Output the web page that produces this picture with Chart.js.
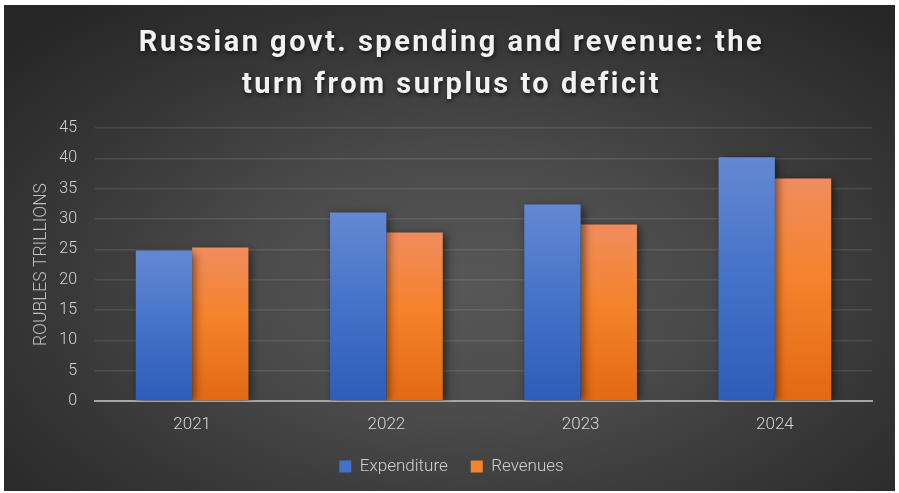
<!DOCTYPE html>
<html>
<head>
<meta charset="utf-8">
<script src="https://cdn.jsdelivr.net/npm/chart.js@4.4.1/dist/chart.umd.min.js"></script>
<style>
  html, body { margin: 0; padding: 0; background: #ffffff; }
  #frame {
    position: absolute; left: 4px; top: 5px; width: 891px; height: 486px;
    background: radial-gradient(ellipse 70% 75% at 52% 58%, #575757 0%, #4b4b4b 35%, #363636 70%, #262626 100%);
  }
  canvas { display: block; }
</style>
</head>
<body>
<div id="frame"><canvas id="c" width="891" height="486"></canvas></div>
<script>
// Russian federal budget, trillions of roubles
const years = ['2021', '2022', '2023', '2024'];
const expenditure = [24.8, 31.1, 32.4, 40.2];
const revenues = [25.3, 27.8, 29.1, 36.7];
const yTicks = [0, 5, 10, 15, 20, 25, 30, 35, 40, 45];

const titleLines = ['Russian govt. spending and revenue: the', 'turn from surplus to deficit'];

// Vertical gradient spanning each bar from its top to the baseline
function barGradient(stops) {
  return function (context) {
    const chart = context.chart;
    const ys = chart.scales && chart.scales.y;
    if (!ys || context.type !== 'data' || context.parsed == null) return stops[1][1];
    const top = ys.getPixelForValue(context.parsed.y);
    const base = ys.getPixelForValue(0);
    if (!isFinite(top) || !isFinite(base) || top === base) return stops[1][1];
    const g = chart.ctx.createLinearGradient(0, top, 0, base);
    stops.forEach(s => g.addColorStop(s[0], s[1]));
    return g;
  };
}

const blueStops = [[0, '#6488d2'], [0.5, '#4472c8'], [1, '#2d5db8']];
const orangeStops = [[0, '#f08d5e'], [0.45, '#f5822c'], [1, '#e36914']];

// Soft drop shadow under the bars and spaced, shadowed title text
const effects = {
  id: 'effects',
  beforeDraw(chart) {
    const tb = chart.titleBlock;
    if (tb && !tb._spaced) {
      const orig = tb.draw;
      tb.draw = function () {
        const ctx = chart.ctx;
        ctx.save();
        ctx.letterSpacing = '2.5px';
        ctx.shadowColor = 'rgba(0,0,0,0.65)';
        ctx.shadowBlur = 4;
        ctx.shadowOffsetX = 1;
        ctx.shadowOffsetY = 2;
        orig.apply(this, arguments);
        ctx.restore();
      };
      tb._spaced = true;
    }
  },
  beforeDatasetsDraw(chart) {
    const ctx = chart.ctx;
    ctx.save();
    ctx.shadowColor = 'rgba(0,0,0,0.55)';
    ctx.shadowBlur = 9;
    ctx.shadowOffsetX = 3;
    ctx.shadowOffsetY = 2;
  },
  afterDatasetsDraw(chart) {
    chart.ctx.restore();
  }
};

new Chart(document.getElementById('c'), {
  type: 'bar',
  data: {
    labels: years,
    datasets: [
      { label: 'Expenditure', data: expenditure, backgroundColor: barGradient(blueStops), borderWidth: 0 },
      { label: 'Revenues', data: revenues, backgroundColor: barGradient(orangeStops), borderWidth: 0 }
    ]
  },
  options: {
    responsive: false,
    animation: false,
    devicePixelRatio: 1,
    datasets: { bar: { categoryPercentage: 0.58, barPercentage: 1.0 } },
    layout: { padding: { left: 27, right: 23, top: 0, bottom: 6 } },
    plugins: {
      title: {
        display: true,
        text: titleLines,
        color: '#f2f2f2',
        font: { family: 'Roboto', size: 29, weight: 'bold', lineHeight: 1.45 },
        padding: { top: 18, bottom: 21 }
      },
      legend: {
        display: true,
        position: 'bottom',
        maxHeight: 53,
        labels: {
          color: '#d0d0d0',
          font: { family: 'Roboto', size: 17, weight: 300 },
          boxWidth: 12,
          boxHeight: 12,
          padding: 23,
          generateLabels(chart) {
            const cols = ['#4472c8', '#f5822c'];
            return chart.data.datasets.map((d, i) => ({
              text: d.label, fillStyle: cols[i], strokeStyle: cols[i], lineWidth: 0,
              fontColor: '#d0d0d0', datasetIndex: i, hidden: false
            }));
          }
        }
      },
      tooltip: { enabled: false }
    },
    scales: {
      x: {
        afterFit(scale) { scale.height = 34; },
        grid: { display: false, drawTicks: false },
        border: { display: true, color: '#a6a6a6', width: 2 },
        ticks: { color: '#d4d4d4', font: { family: 'Roboto', size: 17, weight: 300 }, padding: 14 }
      },
      y: {
        min: 0,
        max: 45,
        afterFit(scale) { scale.width = 64; },
        afterBuildTicks(scale) { scale.ticks = yTicks.map(v => ({ value: v })); },
        grid: { color: 'rgba(255,255,255,0.10)', lineWidth: 1.5, drawTicks: false },
        border: { display: false },
        ticks: { color: '#d4d4d4', font: { family: 'Roboto', size: 16, weight: 300 }, padding: 18 },
        title: {
          display: true,
          text: 'ROUBLES TRILLIONS',
          color: '#bfbfbf',
          font: { family: 'Roboto', size: 17.5, weight: 300 },
          padding: { top: 0, bottom: 8 }
        }
      }
    }
  },
  plugins: [effects]
});
</script>
</body>
</html>
